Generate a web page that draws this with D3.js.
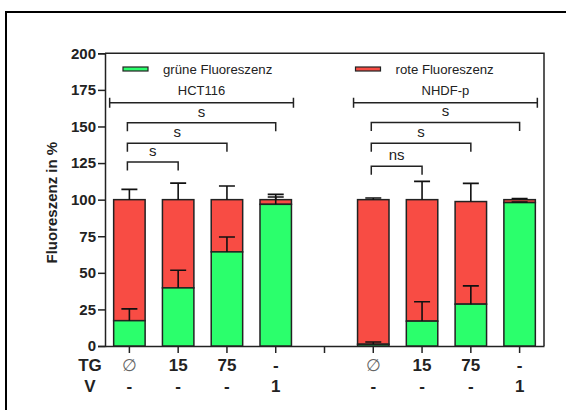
<!DOCTYPE html>
<html>
<head>
<meta charset="utf-8">
<script src="https://cdn.jsdelivr.net/npm/d3@7"></script>
<style>
  body { margin: 0; background: #fff; }
  svg { font-family: "Liberation Sans", Arial, sans-serif; }
  .axis path, .axis line { stroke: #222; stroke-width: 1.5px; }
  .ytick text { font-weight: bold; font-size: 15px; fill: #222; }
</style>
</head>
<body>
<svg id="container" width="566" height="410"></svg>
<script>
// slots along the x axis (slot 4 is the empty gap between the cell lines)
const slots = [0, 1, 2, 3, 4, 5, 6, 7, 8]
const tgLabels = ['∅', '15', '75', '-', '', '∅', '15', '75', '-']
const vLabels = ['-', '-', '-', '1', '', '-', '-', '-', '1']
const barSlots = [0, 1, 2, 3, 5, 6, 7, 8]
const greenValues = [17.3, 39.7, 64.3, 96.8, 1.2, 17, 28.6, 98]
const greenErrors = [8.1, 12.1, 10.2, 5, 1.5, 13.2, 12.5, 0.4]
const totalValues = [100, 100, 100, 100, 100, 100, 98.7, 100]
const redErrors = [7, 11.3, 9.3, 3.6, 1.1, 12.5, 12.4, 0.7]
const yTicks = [0, 25, 50, 75, 100, 125, 150, 175, 200]

const groups = [
  { label: 'HCT116', from: 0, to: 3, y: 166.2 },
  { label: 'NHDF-p', from: 5, to: 8, y: 166.2 }
]
const brackets = [
  { label: 's', from: 0, to: 3, y: 152.5 },
  { label: 's', from: 0, to: 2, y: 138.6 },
  { label: 's', from: 0, to: 1, y: 125.7 },
  { label: 's', from: 5, to: 8, y: 152.8 },
  { label: 's', from: 5, to: 7, y: 138.6 },
  { label: 'ns', from: 5, to: 6, y: 122.9 }
]

const green = '#2bff6c'
const red = '#f84c44'
const dark = '#222'

const svg = d3.select('#container')
const margin = { left: 105, right: 22, top: 53.3, bottom: 64 }
const width = 566
const height = 410

const x = d3
  .scaleBand()
  .domain(slots)
  .range([margin.left, width - margin.right])
  .paddingInner(0.355)
  .paddingOuter(0.1775)
const y = d3.scaleLinear().domain([0, 200]).range([346, margin.top])
const cx = (s) => x(s) + x.bandwidth() / 2

// outer frame (top and left only)
svg
  .append('path')
  .attr('d', `M6,${height} V12 H${width}`)
  .attr('fill', 'none')
  .attr('stroke', '#000')
  .attr('stroke-width', 2)

// plot box top and right
svg
  .append('path')
  .attr('d', `M${x.range()[0]},${y(200)} H${x.range()[1]} V${y(0)}`)
  .attr('fill', 'none')
  .attr('stroke', dark)
  .attr('stroke-width', 1.5)

// y axis
svg
  .append('g')
  .attr('class', 'axis ytick')
  .attr('transform', `translate(${x.range()[0]},0)`)
  .call(d3.axisLeft(y).tickValues(yTicks).tickSize(7).tickPadding(2))

// x axis
svg
  .append('g')
  .attr('class', 'axis')
  .attr('transform', `translate(0,${y(0)})`)
  .call(
    d3
      .axisBottom(x)
      .tickSize(7)
      .tickSizeOuter(0)
      .tickFormat(() => '')
  )
  .selectAll('.tick line')
  .attr('stroke', '#555')

svg
  .append('text')
  .attr('transform', `translate(57,${(y(0) + y(200)) / 2 + 3}) rotate(-90)`)
  .attr('text-anchor', 'middle')
  .attr('font-weight', 'bold')
  .attr('font-size', 15)
  .attr('fill', dark)
  .text('Fluoreszenz in %')

const bars = barSlots.map((s, i) => ({
  slot: s,
  green: greenValues[i],
  gErr: greenErrors[i],
  total: totalValues[i],
  rErr: redErrors[i]
}))

const barG = svg.append('g')

// red segment (green value up to the total)
barG
  .selectAll('rect.red')
  .data(bars)
  .enter()
  .append('rect')
  .attr('class', 'red')
  .attr('x', (d) => x(d.slot))
  .attr('width', x.bandwidth())
  .attr('y', (d) => y(d.total))
  .attr('height', (d) => y(d.green) - y(d.total))
  .attr('fill', red)
  .attr('stroke', dark)
  .attr('stroke-width', 1.5)

barG
  .selectAll('rect.green')
  .data(bars)
  .enter()
  .append('rect')
  .attr('class', 'green')
  .attr('x', (d) => x(d.slot))
  .attr('width', x.bandwidth())
  .attr('y', (d) => y(d.green))
  .attr('height', (d) => y(0) - y(d.green))
  .attr('fill', green)
  .attr('stroke', dark)
  .attr('stroke-width', 1.5)

// error bars (upper only)
function errorBar(base, err) {
  bars.forEach((d) => {
    const c = cx(d.slot)
    const top = y(d[base] + d[err])
    svg
      .append('path')
      .attr('d', `M${c},${y(d[base])} V${top} M${c - 8},${top} H${c + 8}`)
      .attr('fill', 'none')
      .attr('stroke', '#111')
      .attr('stroke-width', 1.6)
  })
}
errorBar('green', 'gErr')
errorBar('total', 'rErr')

// x labels
const labelG = svg
  .append('g')
  .attr('font-weight', 'bold')
  .attr('font-size', 17)
  .attr('fill', dark)
  .attr('text-anchor', 'middle')

labelG.append('text').attr('x', 90).attr('y', 371).text('TG')
labelG.append('text').attr('x', 90).attr('y', 392).text('V')

labelG
  .selectAll('text.tg')
  .data(slots)
  .enter()
  .append('text')
  .attr('class', 'tg')
  .attr('x', (d) => cx(d))
  .attr('y', 371)
  .attr('font-weight', (d, i) => (tgLabels[i] === '∅' ? 'normal' : 'bold'))
  .attr('fill', (d, i) => (tgLabels[i] === '∅' ? '#666' : dark))
  .text((d, i) => tgLabels[i])

labelG
  .selectAll('text.v')
  .data(slots)
  .enter()
  .append('text')
  .attr('class', 'v')
  .attr('x', (d) => cx(d))
  .attr('y', 392)
  .text((d, i) => vLabels[i])

// group spans
groups.forEach((g) => {
  const x0 = x(g.from) - 4
  const x1 = x(g.to) + x.bandwidth() + 2
  const yy = y(g.y)
  svg
    .append('path')
    .attr('d', `M${x0},${yy} H${x1} M${x0},${yy - 5} V${yy + 5} M${x1},${yy - 5} V${yy + 5}`)
    .attr('fill', 'none')
    .attr('stroke', dark)
    .attr('stroke-width', 1.5)
  svg
    .append('text')
    .attr('x', (x0 + x1) / 2)
    .attr('y', yy - 8)
    .attr('text-anchor', 'middle')
    .attr('font-size', 13)
    .attr('fill', dark)
    .text(g.label)
})

// significance brackets
brackets.forEach((b) => {
  const x0 = cx(b.from) - 2
  const x1 = cx(b.to)
  const yy = y(b.y)
  svg
    .append('path')
    .attr('d', `M${x0},${yy + 8.5} V${yy} H${x1} V${yy + 8.5}`)
    .attr('fill', 'none')
    .attr('stroke', dark)
    .attr('stroke-width', 1.5)
  svg
    .append('text')
    .attr('x', (x0 + x1) / 2)
    .attr('y', yy - 6)
    .attr('text-anchor', 'middle')
    .attr('font-size', 15)
    .attr('fill', dark)
    .text(b.label)
})

// legend
const legend = [
  { label: 'grüne Fluoreszenz', color: green, x: 123 },
  { label: 'rote Fluoreszenz', color: red, x: 355.5 }
]
legend.forEach((l) => {
  svg
    .append('rect')
    .attr('x', l.x)
    .attr('y', 67)
    .attr('width', 25)
    .attr('height', 4)
    .attr('fill', l.color)
    .attr('stroke', dark)
    .attr('stroke-width', 1.2)
  svg
    .append('text')
    .attr('x', l.x + 40)
    .attr('y', 73.5)
    .attr('font-size', 13.2)
    .attr('fill', dark)
    .text(l.label)
})
</script>
</body>
</html>
